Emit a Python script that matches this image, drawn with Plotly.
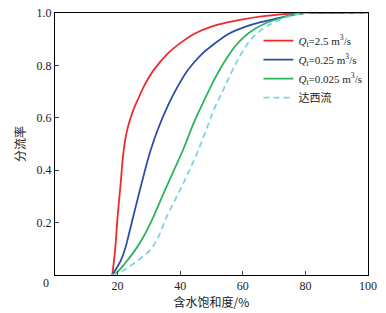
import plotly.graph_objects as go

# Water saturation (%) and fractional flow values
sw_red = [18.3, 19.2, 20.0, 21.0, 21.5, 22.0, 22.5, 23.0, 23.6, 24.3, 25.2, 26.5, 28.2, 31.4, 36, 40, 44.7, 50, 55.4, 60, 66, 72, 77, 80, 100]
f_red = [0, 0.095, 0.223, 0.351, 0.425, 0.48, 0.52, 0.55, 0.578, 0.605, 0.635, 0.67, 0.715, 0.78, 0.845, 0.885, 0.922, 0.948, 0.965, 0.976, 0.987, 0.995, 0.999, 1.0, 1.0]

sw_blue = [18.3, 21, 22.4, 23.7, 25.0, 27.7, 30.4, 33, 36, 39, 42, 44.7, 47.5, 50.1, 55.4, 60.7, 66, 71.3, 76, 80, 100]
f_blue = [0, 0.055, 0.10, 0.16, 0.223, 0.351, 0.47, 0.56, 0.645, 0.715, 0.775, 0.815, 0.85, 0.875, 0.92, 0.947, 0.966, 0.98, 0.993, 1.0, 1.0]

sw_green = [18.3, 20, 22.4, 25.6, 28, 31, 35, 38, 41, 44.5, 47.4, 50, 52.2, 55, 57.5, 60.5, 63.9, 67.5, 71.3, 75, 80, 100]
f_green = [0, 0.012, 0.045, 0.095, 0.14, 0.21, 0.32, 0.40, 0.48, 0.585, 0.66, 0.725, 0.775, 0.83, 0.872, 0.91, 0.94, 0.962, 0.978, 0.99, 1.0, 1.0]

sw_darcy = [18.3, 21, 23.5, 26.6, 30.4, 33, 35.7, 38.5, 41, 43.5, 45.8, 48.5, 51.1, 53.5, 55.4, 58.6, 62.8, 68.1, 72, 76, 80, 100]
f_darcy = [0, 0.012, 0.03, 0.057, 0.095, 0.145, 0.223, 0.29, 0.35, 0.415, 0.477, 0.56, 0.64, 0.70, 0.749, 0.826, 0.902, 0.953, 0.975, 0.991, 1.0, 1.0]

names = ["<i>Q</i><sub>t</sub>=2.5 m<sup>3</sup>/s",
         "<i>Q</i><sub>t</sub>=0.25 m<sup>3</sup>/s",
         "<i>Q</i><sub>t</sub>=0.025 m<sup>3</sup>/s",
         "达西流"]

x_ticks = [0, 20, 40, 60, 80, 100]
x_ticktext = ["", "20", "40", "60", "80", "100"]
y_ticks = [0, 0.2, 0.4, 0.6, 0.8, 1.0]
y_ticktext = ["", "0.2", "0.4", "0.6", "0.8", "1.0"]
origin_label = "0"

serif = "Liberation Serif, Noto Sans CJK SC"
cjk = "Noto Sans CJK SC"

fig = go.Figure()
line_kw = dict(width=1.8, shape="spline", smoothing=1.0)
fig.add_trace(go.Scatter(x=sw_red, y=f_red, mode="lines", name=names[0],
                         line=dict(color="#EE2B2B", **line_kw)))
fig.add_trace(go.Scatter(x=sw_blue, y=f_blue, mode="lines", name=names[1],
                         line=dict(color="#2B4FA6", **line_kw)))
fig.add_trace(go.Scatter(x=sw_green, y=f_green, mode="lines", name=names[2],
                         line=dict(color="#2EB35C", **line_kw)))
fig.add_trace(go.Scatter(x=sw_darcy, y=f_darcy, mode="lines", name=names[3],
                         line=dict(color="#7DD3E2", dash="6px,4px", **line_kw)))

fig.add_annotation(x=0, y=0, xref="paper", yref="paper", text=origin_label,
                   showarrow=False, xanchor="center", yanchor="middle",
                   xshift=-9, yshift=-8,
                   font=dict(family=serif, size=12, color="#222"))

fig.update_layout(
    width=386, height=313,
    margin=dict(l=55, r=18, t=13, b=38, autoexpand=False),
    paper_bgcolor="white", plot_bgcolor="white",
    font=dict(family=serif, size=12, color="#222"),
    showlegend=True,
    legend=dict(x=0.65, y=0.95, xanchor="left", yanchor="top",
                bgcolor="rgba(0,0,0,0)", font=dict(family=serif, size=11, color="#222"),
                itemwidth=30, tracegroupgap=0),
    xaxis=dict(range=[0, 100], tickvals=x_ticks, ticktext=x_ticktext, ticks="inside", ticklen=4,
               showline=True, linecolor="black", linewidth=1, mirror=True,
               showgrid=False, zeroline=False, automargin=False,
               title=dict(text="含水饱和度/%", font=dict(family=cjk, size=12), standoff=5)),
    yaxis=dict(range=[0, 1.0], tickvals=y_ticks, ticktext=y_ticktext, ticks="inside", ticklen=4,
               showline=True, linecolor="black", linewidth=1, mirror=True,
               showgrid=False, zeroline=False, automargin=False,
               title=dict(text="分流率", font=dict(family=cjk, size=12), standoff=8)),
)

fig.write_html("out.html", config={"displayModeBar": False},
               post_script="document.body.style.margin='0';")
